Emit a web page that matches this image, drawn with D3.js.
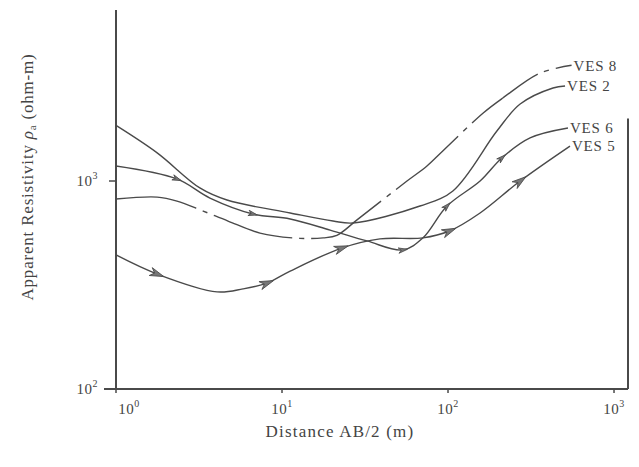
<!DOCTYPE html>
<html>
<head>
<meta charset="utf-8">
<script src="https://cdn.jsdelivr.net/npm/d3@7"></script>
<style>
    body { margin: 0; background: #fff; }
    text { font-family: "Liberation Serif", "DejaVu Serif", serif; fill: #444; }
</style>
</head>
<body>
<div id="chart"></div>
<script>
// sounding curves: AB/2 (m) against apparent resistivity (ohm-m)
const ves8X = [1, 1.77, 2.33, 3.35, 4.73, 7.37, 12.8, 17.7, 21.4, 28.3, 56.6, 74.7, 93, 163, 214, 358, 555];
const ves8Y = [819, 837, 801, 717, 642, 562, 530, 533, 548, 650, 1000, 1181, 1394, 2123, 2506, 3300, 3600];

const ves2X = [1, 1.77, 3.2, 4.66, 11.2, 20.3, 26.8, 67.8, 107, 197, 272, 429, 507];
const ves2Y = [1850, 1365, 926, 810, 702, 642, 628, 758, 896, 1739, 2344, 2800, 2865];

const ves6X = [1, 2.33, 3.68, 6.69, 11.2, 19.5, 32.5, 53.5, 70.7, 98.6, 156, 211, 312, 528];
const ves6Y = [1181, 1023, 828, 694, 657, 581, 515, 466, 533, 758, 1000, 1291, 1611, 1798];

const ves5X = [1, 1.77, 4.06, 5.82, 8.12, 11.2, 22.9, 38.9, 70.7, 102, 156, 272, 543];
const ves5Y = [441, 357, 293, 303, 323, 369, 476, 527, 533, 575, 702, 1000, 1472];

// where the little arrowheads sit on the curves
const ves6Marks = [2.33, 6.69, 53.5, 98.6, 211];
const ves5Marks = [1.77, 8.12, 22.9, 102, 272];

const seriesNames = ["VES 8", "VES 2", "VES 6", "VES 5"];
const xTicks = [1, 10, 100, 1000];
const yTicks = [100, 1000];
const tickExp = ["0", "1", "2", "3"];

const width = 639, height = 467;

const svg = d3.select("#chart")
    .append("svg")
    .attr("width", width)
    .attr("height", height);

const x = d3.scaleLog().domain([1, 1214]).range([116, 628]);
const y = d3.scaleLog().domain([100, 6640]).range([389, 10]);

const ink = "#4a4a4a";

// frame: left and bottom axis, partial right edge
svg.append("line")
    .attr("x1", x(1)).attr("x2", x(1))
    .attr("y1", y(100)).attr("y2", y(6640))
    .attr("stroke", ink).attr("stroke-width", 2);
svg.append("line")
    .attr("x1", x(1) - 12).attr("x2", x(1214))
    .attr("y1", y(100)).attr("y2", y(100))
    .attr("stroke", ink).attr("stroke-width", 2);
svg.append("line")
    .attr("x1", x(1214)).attr("x2", x(1214))
    .attr("y1", y(100)).attr("y2", y(2000))
    .attr("stroke", ink).attr("stroke-width", 2);

// ticks
svg.selectAll("xtick")
    .data(xTicks)
    .enter()
    .append("line")
    .attr("x1", d => x(d)).attr("x2", d => x(d))
    .attr("y1", y(100)).attr("y2", y(100) + 4)
    .attr("stroke", ink).attr("stroke-width", 1.5);

svg.selectAll("ytick")
    .data(yTicks)
    .enter()
    .append("line")
    .attr("x1", x(1) - 7).attr("x2", x(1))
    .attr("y1", d => y(d)).attr("y2", d => y(d))
    .attr("stroke", ink).attr("stroke-width", 1.5);

// tick labels as 10^n
const xLab = svg.selectAll("xlab")
    .data(xTicks)
    .enter()
    .append("text")
    .attr("x", (d, i) => x(d) + (i === 0 ? 13 : 0))
    .attr("y", y(100) + 25)
    .attr("text-anchor", "middle")
    .attr("font-size", "15px")
    .attr("letter-spacing", "0.5px");
xLab.append("tspan").text("10");
xLab.append("tspan").attr("dy", -7).attr("font-size", "10px").text((d, i) => tickExp[i]);

const yLab = svg.selectAll("ylab")
    .data(yTicks)
    .enter()
    .append("text")
    .attr("x", x(1) - 18)
    .attr("y", d => y(d) + 5)
    .attr("text-anchor", "end")
    .attr("font-size", "15px")
    .attr("letter-spacing", "0.5px");
yLab.append("tspan").text("10");
yLab.append("tspan").attr("dy", -7).attr("font-size", "10px").text((d, i) => tickExp[i + 2]);

// axis titles
svg.append("text")
    .attr("x", 340)
    .attr("y", 437)
    .attr("text-anchor", "middle")
    .attr("font-size", "17px")
    .attr("letter-spacing", "1.2px")
    .text("Distance AB/2 (m)");

const yTitle = svg.append("text")
    .attr("transform", "translate(33,177) rotate(-90)")
    .attr("text-anchor", "middle")
    .attr("font-size", "17px")
    .attr("letter-spacing", "0.8px");
yTitle.append("tspan").text("Apparent Resistivity ");
yTitle.append("tspan").attr("font-style", "italic").text("\u03c1");
yTitle.append("tspan").attr("font-size", "11px").attr("dy", 3).text("a");
yTitle.append("tspan").attr("dy", -3).text(" (ohm-m)");

// curves
const line = d3.line()
    .x(d => x(d[0]))
    .y(d => y(d[1]))
    .curve(d3.curveCatmullRom.alpha(0.5));

function draw(xs, ys, dash) {
    const pts = xs.map((v, i) => [v, ys[i]]);
    return svg.append("path")
        .datum(pts)
        .attr("d", line)
        .attr("fill", "none")
        .attr("stroke", ink)
        .attr("stroke-width", 1.4)
        .attr("stroke-dasharray", dash);
}

const p8 = draw(ves8X, ves8Y, "82 7 5 7");
const p2 = draw(ves2X, ves2Y, null);
const p6 = draw(ves6X, ves6Y, null);
const p5 = draw(ves5X, ves5Y, null);

// arrowheads placed on the drawn path, turned along it
function addMarks(path, xs, size) {
    const node = path.node();
    const len = node.getTotalLength();
    const samples = d3.range(0, len, 0.5).map(l => ({l: l, p: node.getPointAtLength(l)}));
    xs.forEach(v => {
        const px = x(v);
        const s = samples.reduce((a, b) => Math.abs(b.p.x - px) < Math.abs(a.p.x - px) ? b : a);
        const p0 = node.getPointAtLength(Math.max(0, s.l - 3));
        const p1 = node.getPointAtLength(Math.min(len, s.l + 3));
        const ang = Math.atan2(p1.y - p0.y, p1.x - p0.x) * 180 / Math.PI;
        svg.append("path")
            .attr("d", `M${size},0L${-size},${-size * 0.6}L${-size * 0.4},0L${-size},${size * 0.6}Z`)
            .attr("transform", `translate(${s.p.x},${s.p.y}) rotate(${ang})`)
            .attr("fill", "#777")
            .attr("stroke", ink)
            .attr("stroke-width", 0.8);
    });
}

addMarks(p6, ves6Marks, 4.5);
addMarks(p5, ves5Marks, 7);

// series labels at the end of each curve
const ends = [ves8X, ves2X, ves6X, ves5X].map((xs, i) => {
    const ys = [ves8Y, ves2Y, ves6Y, ves5Y][i];
    return {name: seriesNames[i], x: xs[xs.length - 1], y: ys[ys.length - 1]};
});

svg.selectAll("serieslab")
    .data(ends)
    .enter()
    .append("text")
    .attr("x", d => x(d.x) + 2)
    .attr("y", d => y(d.y))
    .attr("dy", "0.35em")
    .attr("font-size", "15px")
    .attr("letter-spacing", "0.8px")
    .text(d => d.name);
</script>
</body>
</html>
